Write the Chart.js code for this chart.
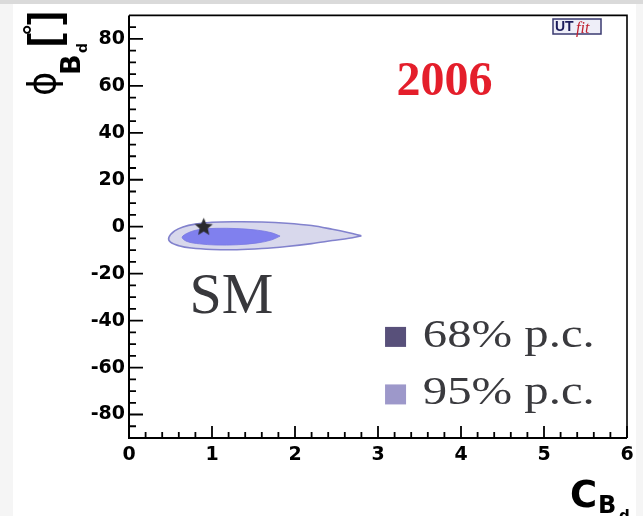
<!DOCTYPE html>
<html>
<head>
<meta charset="utf-8">
<script src="https://cdn.jsdelivr.net/npm/chart.js@4.4.1/dist/chart.umd.min.js"></script>
<style>
  html, body { margin: 0; padding: 0; background: #fff; }
  canvas { display: block; }
</style>
</head>
<body>
<canvas id="plot" width="643" height="516"></canvas>
<script>
// axis ticks
var xTicks = [0, 1, 2, 3, 4, 5, 6];
var yTicks = [-80, -60, -40, -20, 0, 20, 40, 60, 80];

// 95% contour (starts and ends at the right tip)
var c95X = [2.80, 2.65, 2.45, 2.20, 1.90, 1.60, 1.30, 1.00, 0.80, 0.65, 0.55, 0.48, 0.50, 0.60, 0.75, 1.00, 1.30, 1.60, 1.90, 2.20, 2.45, 2.65, 2.80];
var c95Y = [-3.9, -2.6, -1.1, 0.5, 1.5, 2.0, 2.1, 1.9, 1.1, -0.1, -1.8, -4.6, -6.6, -8.1, -9.1, -9.7, -9.8, -9.3, -8.4, -7.2, -5.9, -4.9, -3.9];

// 68% contour
var c68X = [1.82, 1.72, 1.55, 1.30, 1.05, 0.85, 0.72, 0.64, 0.70, 0.85, 1.05, 1.30, 1.55, 1.72, 1.82];
var c68Y = [-4.0, -2.6, -1.5, -0.8, -0.7, -1.2, -2.5, -4.5, -6.3, -7.3, -7.8, -7.7, -6.9, -5.6, -4.0];

// standard model point
var smX = [0.9];
var smY = [0.2];

var legendLabels = ['68% p.c.', '95% p.c.'];
var legendColors = ['#58507a', '#9d98ca'];
var yearLabel = '2006';
var smLabel = 'SM';

function toPoints(xs, ys) {
  return xs.map(function(x, i) { return {x: x, y: ys[i]}; });
}

// filled five point star for the SM marker
function makeStar(r, color) {
  var c = document.createElement('canvas');
  c.width = c.height = Math.ceil(r * 2 + 2);
  var g = c.getContext('2d');
  g.translate(c.width / 2, c.height / 2 + r * 0.1);
  g.beginPath();
  for (var i = 0; i < 10; i++) {
    var rad = i % 2 ? r * 0.45 : r;
    var a = -Math.PI / 2 + i * Math.PI / 5;
    g.lineTo(rad * Math.cos(a), rad * Math.sin(a));
  }
  g.closePath();
  g.fillStyle = color;
  g.fill();
  return c;
}

var decor = {
  id: 'decor',
  beforeDraw: function(chart) {
    var ctx = chart.ctx;
    ctx.save();
    ctx.fillStyle = '#ffffff';
    ctx.fillRect(0, 0, chart.width, chart.height);
    ctx.fillStyle = '#f5f5f5';
    ctx.fillRect(0, 0, 13, chart.height);
    ctx.fillRect(636, 0, 7, chart.height);
    ctx.fillStyle = '#dadada';
    ctx.fillRect(0, 0, chart.width, 4);
    ctx.restore();
  },
  afterDraw: function(chart) {
    var ctx = chart.ctx, a = chart.chartArea;
    var x = chart.scales.x, y = chart.scales.y;
    ctx.save();

    // ticks, inside the frame
    ctx.strokeStyle = '#000';
    ctx.lineWidth = 1.8;
    ctx.beginPath();
    for (var v = 0; v <= 6.0001; v += 0.2) {
      var px = x.getPixelForValue(v);
      var major = Math.abs(v - Math.round(v)) < 1e-6;
      ctx.moveTo(px, a.bottom);
      ctx.lineTo(px, a.bottom - (major ? 12 : 6));
    }
    for (var w = -85; w <= 85; w += 5) {
      var py = y.getPixelForValue(w);
      var maj = w % 20 === 0;
      ctx.moveTo(a.left, py);
      ctx.lineTo(a.left + (maj ? 14 : 7), py);
    }
    ctx.stroke();

    // frame
    ctx.lineWidth = 2;
    ctx.beginPath();
    ctx.moveTo(a.left, a.top);
    ctx.lineTo(a.left, a.bottom);
    ctx.lineTo(a.right, a.bottom);
    ctx.stroke();
    ctx.lineWidth = 1.6;
    ctx.beginPath();
    ctx.moveTo(a.left, a.top);
    ctx.lineTo(a.right, a.top);
    ctx.lineTo(a.right, a.bottom);
    ctx.stroke();

    // year
    ctx.fillStyle = '#e41e2b';
    ctx.font = 'bold 48px "Liberation Serif"';
    ctx.textAlign = 'center';
    ctx.textBaseline = 'alphabetic';
    ctx.fillText(yearLabel, x.getPixelForValue(3.80), y.getPixelForValue(55.9));

    // SM label
    ctx.textAlign = 'left';
    ctx.fillStyle = '#38383c';
    ctx.font = '58px "Liberation Serif"';
    ctx.fillText(smLabel, x.getPixelForValue(0.73), y.getPixelForValue(-36.8));

    // legend
    var baseY = [-51.2, -75.7];
    for (var i = 0; i < legendLabels.length; i++) {
      var by = y.getPixelForValue(baseY[i]);
      ctx.fillStyle = legendColors[i];
      ctx.fillRect(x.getPixelForValue(3.085), by - 20, 21, 20);
      ctx.save();
      ctx.translate(x.getPixelForValue(3.54), by);
      ctx.scale(1.25, 1);
      ctx.fillStyle = '#3a3a3e';
      ctx.font = '39px "Liberation Serif"';
      ctx.fillText(legendLabels[i], 0, 0);
      ctx.restore();
    }

    // y axis title: phi_{B_d} [deg]
    ctx.save();
    ctx.translate(55, 96);
    ctx.rotate(-Math.PI / 2);
    ctx.fillStyle = '#000';
    ctx.font = '37px "DejaVu Sans"';
    ctx.fillText('\u03D5', 0, 0);
    ctx.font = 'bold 27px "DejaVu Sans"';
    ctx.fillText('B', 21, 25);
    ctx.font = 'bold 14px "DejaVu Sans"';
    ctx.fillText('d', 43, 32);
    ctx.font = 'bold 42px "Liberation Sans"';
    ctx.fillText('[', 49, 3);
    ctx.fillText(']', 71, 3);
    ctx.font = 'bold 26px "Liberation Sans"';
    ctx.fillText('\u00B0', 61, -14);
    ctx.restore();

    // x axis title: C_{B_d}
    ctx.fillStyle = '#000';
    ctx.font = 'bold 37px "DejaVu Sans"';
    ctx.fillText('C', 570, 507);
    ctx.font = 'bold 24px "DejaVu Sans"';
    ctx.fillText('B', 598, 513);
    ctx.font = 'bold 15px "DejaVu Sans"';
    ctx.fillText('d', 619, 521);

    // UTfit logo
    ctx.fillStyle = '#eeeef8';
    ctx.fillRect(553, 19, 48, 15);
    ctx.strokeStyle = '#3a3a70';
    ctx.lineWidth = 1.5;
    ctx.strokeRect(553, 19, 48, 15);
    ctx.fillStyle = '#1c1c5c';
    ctx.font = 'bold 14px "Liberation Sans"';
    ctx.fillText('UT', 555, 31);
    ctx.fillStyle = '#c0202e';
    ctx.font = 'italic 16px "Liberation Serif"';
    ctx.fillText('fit', 576, 33);

    ctx.restore();
  }
};

var tickFont = {family: 'DejaVu Sans', weight: 'bold', size: 19};

var chart = new Chart(document.getElementById('plot'), {
  type: 'scatter',
  data: {
    datasets: [{
      label: smLabel,
      data: toPoints(smX, smY),
      pointStyle: makeStar(9.5, '#2a2a2e'),
      pointRadius: 9,
      order: 0
    }, {
      label: legendLabels[0],
      data: toPoints(c68X, c68Y),
      showLine: true,
      fill: 'shape',
      backgroundColor: 'rgb(128,128,238)',
      borderColor: 'rgb(120,120,225)',
      borderWidth: 0.8,
      pointRadius: 0,
      tension: 0.35,
      order: 1
    }, {
      label: legendLabels[1],
      data: toPoints(c95X, c95Y),
      showLine: true,
      fill: 'shape',
      backgroundColor: 'rgb(216,216,236)',
      borderColor: 'rgb(130,130,205)',
      borderWidth: 1.6,
      pointRadius: 0,
      tension: 0.35,
      order: 2
    }]
  },
  options: {
    responsive: false,
    animation: false,
    layout: {padding: {top: 12, right: 16, left: 0, bottom: 0}},
    plugins: {
      legend: {display: false},
      tooltip: {enabled: false}
    },
    scales: {
      x: {
        type: 'linear',
        min: 0,
        max: 6,
        grid: {display: false, drawTicks: false},
        border: {display: false},
        ticks: {font: tickFont, color: '#000', padding: 6, maxRotation: 0},
        afterBuildTicks: function(s) { s.ticks = xTicks.map(function(v) { return {value: v}; }); },
        afterFit: function(s) { s.height = 78; }
      },
      y: {
        type: 'linear',
        min: -90,
        max: 90,
        grid: {display: false, drawTicks: false},
        border: {display: false},
        ticks: {font: tickFont, color: '#000', padding: 4},
        afterBuildTicks: function(s) { s.ticks = yTicks.map(function(v) { return {value: v}; }); },
        afterFit: function(s) { s.width = 129; }
      }
    }
  },
  plugins: [decor]
});
</script>
</body>
</html>
